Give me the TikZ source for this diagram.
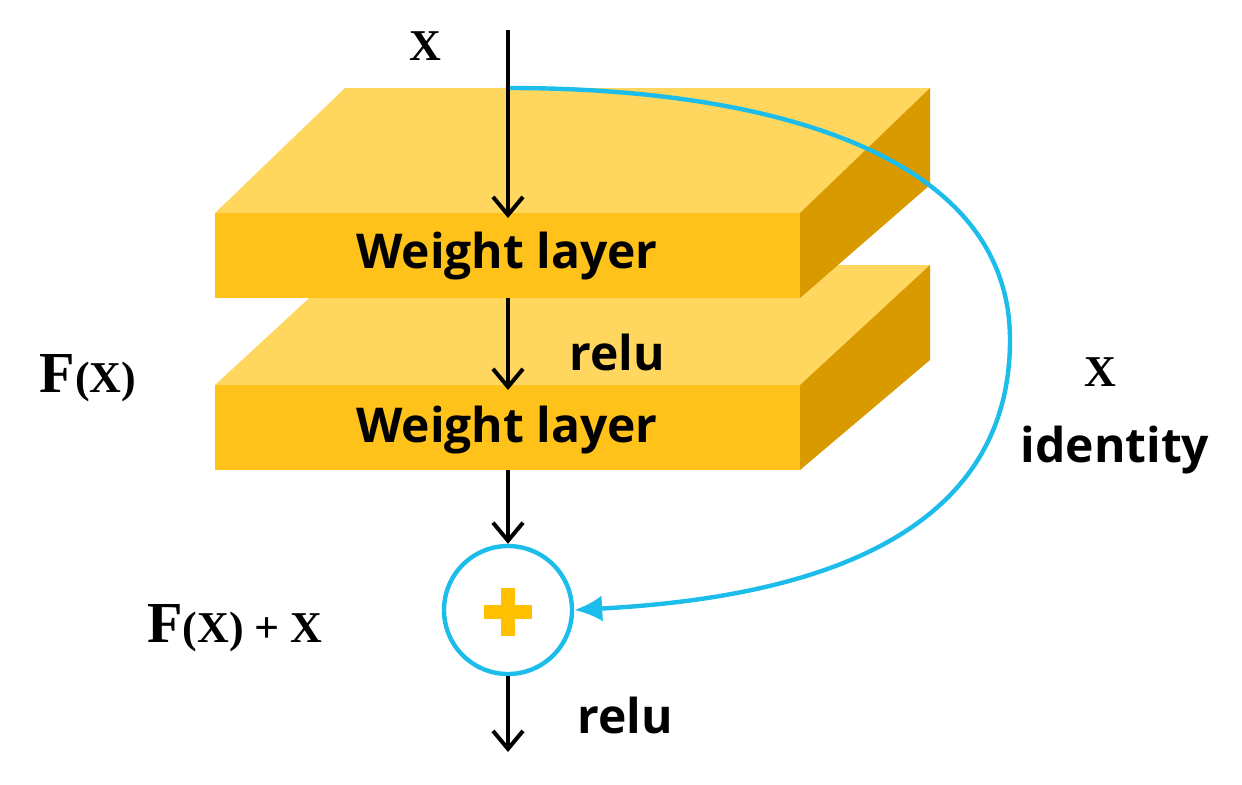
\documentclass[tikz,border=0pt]{standalone}
\usepackage{fontspec}
\setmainfont{Liberation Serif}
\newfontfamily\sansb{Open Sans}
\usetikzlibrary{arrows.meta}
\definecolor{topc}{HTML}{FFD75E}
\definecolor{frontc}{HTML}{FFC21A}
\definecolor{sidec}{HTML}{D99A00}
\definecolor{cy}{HTML}{1CBDEB}
\definecolor{plusc}{HTML}{FFC000}
\begin{document}
\begin{tikzpicture}[x=0.5pt,y=-0.5pt,
  arr/.style={line width=2pt,-{Straight Barb[length=9pt,width=15pt,line width=2pt]}},
  lay/.style={font=\sansb\bfseries\fontsize{24}{28}\selectfont},
  ser/.style={font=\bfseries\fontsize{22}{26}\selectfont}]
\useasboundingbox (0,0) rectangle (1242,784);
% bottom slab
\fill[topc] (215,385)--(800,385)--(930,265)--(345,265)--cycle;
\fill[sidec] (800,385)--(930,265)--(930,360)--(800,470)--cycle;
\fill[frontc] (215,385) rectangle (800,470);
\node[lay] (w2) at (507,430) {Weight layer};
% top slab
\fill[topc] (215,213)--(800,213)--(930,88)--(345,88)--cycle;
\fill[sidec] (800,213)--(930,88)--(930,185)--(800,298)--cycle;
\fill[frontc] (215,213) rectangle (800,298);
\node[lay] (w1) at (507,256) {Weight layer};
% sum node
\node[circle,draw=cy,line width=2.2pt,minimum size=64pt,inner sep=0pt] (sum) at (508,610) {};
\fill[plusc] (508,612) +(-24,-7) rectangle +(24,7);
\fill[plusc] (508,612) +(-7,-24) rectangle +(7,24);
% coordinates
\coordinate (in) at (508,30);
\coordinate (a1) at (508,218);
\coordinate (b1) at (508,298);
\coordinate (a2) at (508,390);
\coordinate (b2) at (508,470);
\coordinate (out) at (508,752);
\coordinate (tap) at (510,88);
\draw[arr] (in) -- (a1);
\draw[arr] (b1) -- (a2);
\draw[arr] (b2) -- (sum.north);
\draw[arr] (sum.south) -- (out);
\draw[cy,line width=2.2pt,-{Latex[length=14pt,width=13pt]}] (tap) .. controls (760,88) and (1010,150) .. (1010,340)
  .. controls (1010,560) and (760,600) .. (sum.east);
% labels
\node[ser] (lx) at (425,46) {X};
\node[lay] (r1) at (617,352) {relu};
\node[font=\bfseries] (fx) at (88,378) {{\fontsize{29}{32}\selectfont F}{\fontsize{22}{26}\selectfont (X)}};
\node[ser] (ix) at (1100,372) {X};
\node[lay] (id) at (1115,450) {identity};
\node[font=\bfseries] (fxx) at (235,628) {{\fontsize{29}{32}\selectfont F}{\fontsize{22}{26}\selectfont (X) + X}};
\node[lay] (r2) at (625,715) {relu};
\end{tikzpicture}
\end{document}
